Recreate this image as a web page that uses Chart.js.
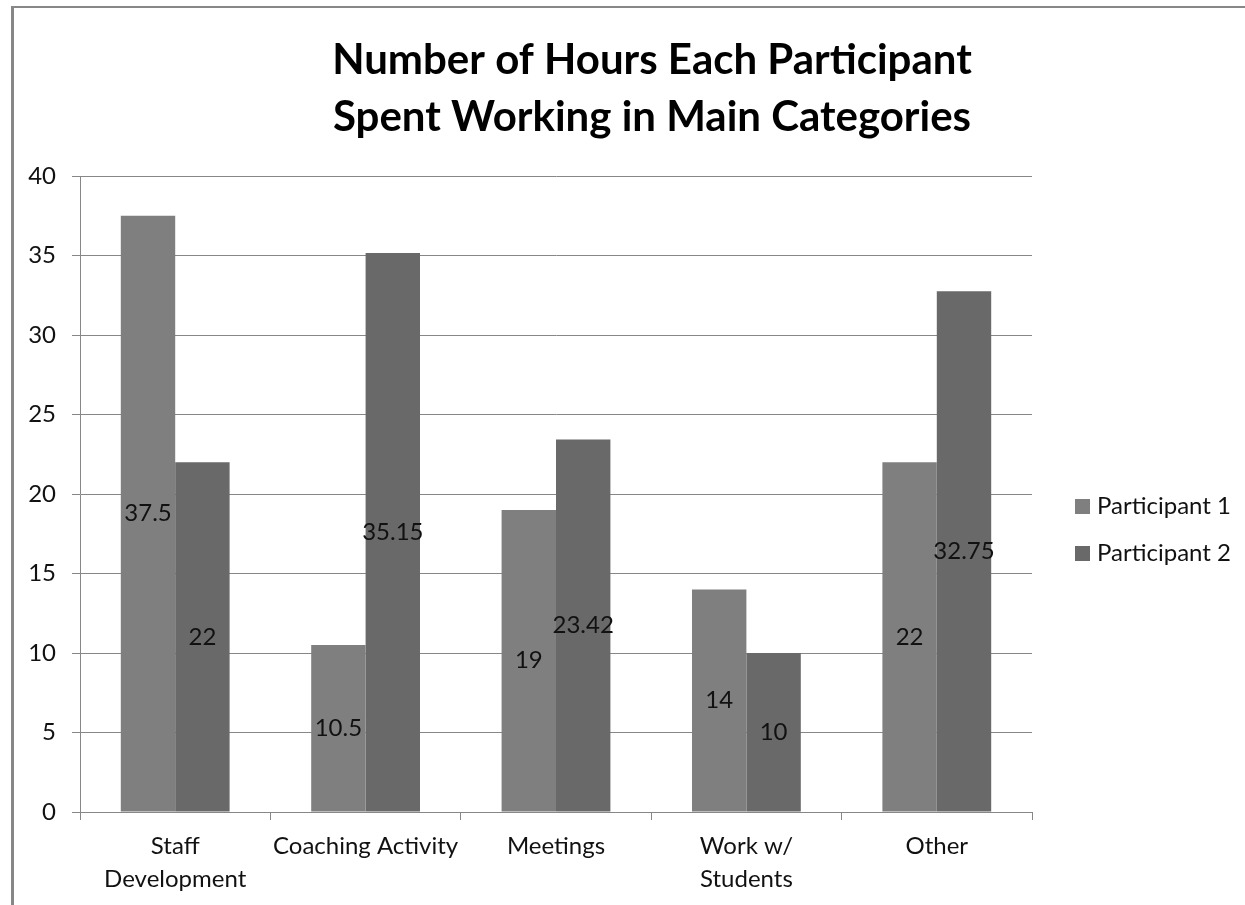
<!DOCTYPE html>
<html>
<head>
<meta charset="utf-8">
<title>Hours per participant</title>
<script src="https://cdn.jsdelivr.net/npm/chart.js@4"></script>
<style>
  html, body { margin: 0; padding: 0; background: #fff; overflow: hidden; }
  #frame {
    position: absolute; left: 11px; top: 6px; right: 0; bottom: 0;
    border-left: 3px solid #878787; border-top: 2px solid #878787;
  }
  #wrap { position: absolute; left: 0; top: 0; width: 1245px; height: 905px; }
</style>
</head>
<body>
<div id="frame"></div>
<div id="wrap"><canvas id="hours"></canvas></div>
<script>
// ── Data ──
var categories = [
  ['Staff', 'Development'],
  'Coaching Activity',
  'Meetings',
  ['Work w/', 'Students'],
  'Other'
];
var seriesNames = ['Participant 1', 'Participant 2'];
var participant1 = [37.5, 10.5, 19, 14, 22];
var participant2 = [22, 35.15, 23.42, 10, 32.75];
var titleLines = ['Number of Hours Each Participant', 'Spent Working in Main Categories'];
var yTicks = { min: 0, max: 40, step: 5 };

var FONT = 'Lato, "Open Sans", sans-serif';
var GRID = '#878787';
var COLORS = ['#7f7f7f', '#696969'];

// ── Title, drawn centred over the whole frame ──
var titlePlugin = {
  id: 'frameTitle',
  afterDraw: function(chart) {
    var ctx = chart.ctx;
    ctx.save();
    ctx.font = 'bold 42px ' + FONT;
    ctx.fillStyle = '#000';
    ctx.textAlign = 'center';
    ctx.textBaseline = 'middle';
    titleLines.forEach(function(line, i) {
      ctx.fillText(line, 652, 60 + i * 57);
    });
    ctx.restore();
  }
};

// ── Value labels in the middle of each bar ──
var barLabels = {
  id: 'barLabels',
  afterDatasetsDraw: function(chart) {
    var ctx = chart.ctx;
    ctx.save();
    ctx.font = '24px ' + FONT;
    ctx.fillStyle = '#111';
    ctx.textAlign = 'center';
    ctx.textBaseline = 'middle';
    chart.data.datasets.forEach(function(ds, di) {
      chart.getDatasetMeta(di).data.forEach(function(bar, i) {
        ctx.fillText(String(ds.data[i]), bar.x, (bar.y + bar.base) / 2);
      });
    });
    ctx.restore();
  }
};

// ── Legend at the right of the plot ──
var sideLegend = {
  id: 'sideLegend',
  afterDraw: function(chart) {
    var ctx = chart.ctx;
    var x = chart.chartArea.right + 43;
    ctx.save();
    ctx.font = '24px ' + FONT;
    ctx.textBaseline = 'middle';
    ctx.textAlign = 'left';
    chart.data.datasets.forEach(function(ds, i) {
      var y = 506 + i * 47;
      ctx.fillStyle = ds.backgroundColor;
      ctx.fillRect(x, y - 7, 15, 15);
      ctx.fillStyle = '#111';
      ctx.fillText(ds.label, x + 22, y);
    });
    ctx.restore();
  }
};

new Chart(document.getElementById('hours'), {
  type: 'bar',
  data: {
    labels: categories,
    datasets: [
      { label: seriesNames[0], data: participant1, backgroundColor: COLORS[0] },
      { label: seriesNames[1], data: participant2, backgroundColor: COLORS[1] }
    ]
  },
  options: {
    responsive: true,
    maintainAspectRatio: false,
    animation: false,
    layout: { padding: { top: 176, right: 213, bottom: 0, left: 0 } },
    datasets: { bar: { categoryPercentage: 1 / 1.75, barPercentage: 1 } },
    plugins: {
      legend: { display: false },
      title: { display: false },
      tooltip: { enabled: false }
    },
    scales: {
      x: {
        afterFit: function(s) { s.height = 93; },
        grid: { drawOnChartArea: false, color: GRID, tickLength: 8, lineWidth: 1 },
        border: { color: GRID, width: 1 },
        ticks: { color: '#111', font: { family: FONT, size: 24, lineHeight: 1.375 }, padding: 10, maxRotation: 0 }
      },
      y: {
        min: yTicks.min,
        max: yTicks.max,
        afterFit: function(s) { s.width = 80; },
        grid: { color: GRID, tickLength: 8, lineWidth: 1 },
        border: { color: GRID, width: 1 },
        ticks: { stepSize: yTicks.step, color: '#111', font: { family: FONT, size: 24 }, padding: 16 }
      }
    }
  },
  plugins: [titlePlugin, barLabels, sideLegend]
});
</script>
</body>
</html>
